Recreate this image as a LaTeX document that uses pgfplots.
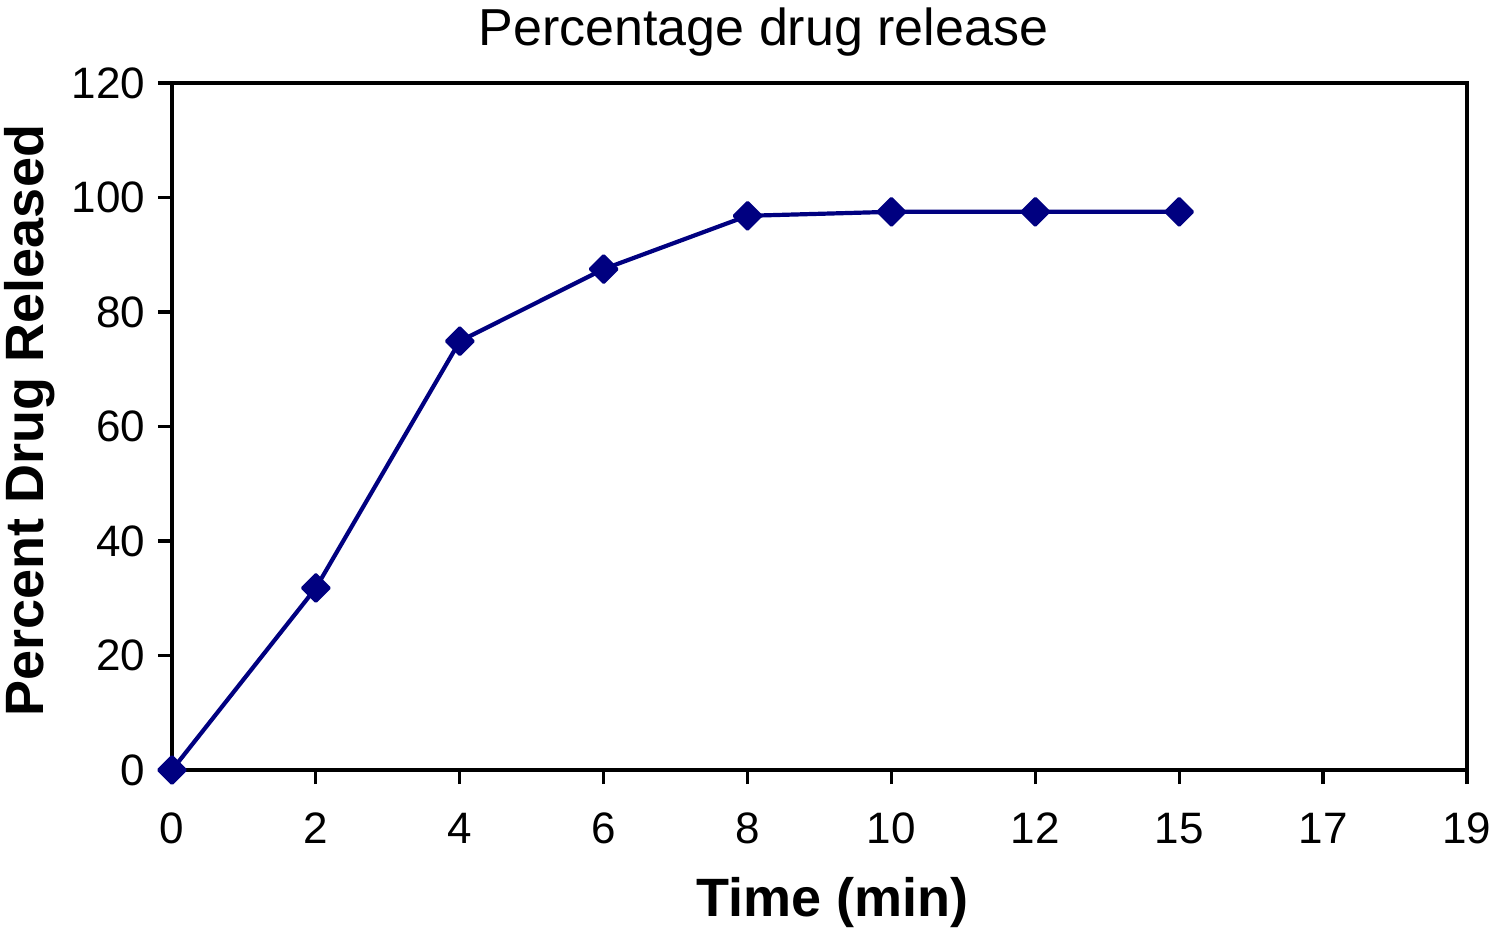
\documentclass[border=0pt]{standalone}
\usepackage{fontspec}
\setmainfont{Liberation Sans}
\usepackage{pgfplots}
\pgfplotsset{compat=1.18}
\definecolor{navy}{HTML}{000080}
\begin{document}
\begin{tikzpicture}
\useasboundingbox (-172bp,-167bp) rectangle (1319bp,770bp);
\begin{axis}[
  at={(0,0)}, anchor=south west,
  scale only axis,
  width=1295bp, height=687bp,
  xmin=0, xmax=9, ymin=0, ymax=120,
  xtick={0,1,2,3,4,5,6,7,8,9},
  xticklabels={0,2,4,6,8,10,12,15,17,19},
  ytick={0,20,40,60,80,100,120},
  xtick pos=bottom, ytick pos=left,
  tick align=outside,
  major tick length=14bp,
  line width=3.2bp,
  axis line style={line width=3.2bp},
  every tick/.style={black, line width=3.2bp},
  /pgf/number format/assume math mode=true,
  ticklabel style={font=\fontsize{44bp}{50bp}\selectfont},
  xticklabel style={yshift=-24bp},
  yticklabel style={xshift=-8bp},
  title={Percentage drug release},
  title style={font=\fontsize{52bp}{58bp}\selectfont, at={(axis description cs:0.5,1)}, anchor=center, yshift=45bp, xshift=-56bp},
  xlabel={\textbf{Time (min)}},
  ylabel={\textbf{Percent Drug Released}},
  xlabel style={font=\fontsize{54bp}{60bp}\selectfont, at={(axis description cs:0.5,0)}, anchor=center, yshift=-133bp, xshift=13bp},
  ylabel style={font=\fontsize{54bp}{60bp}\selectfont, at={(axis description cs:0,0.5)}, anchor=center, yshift=142bp, xshift=6bp},
  clip=false,
]
\addplot[color=navy, line width=4.2bp, line join=round, mark=square*, mark size=9.5bp, mark options={rotate=45, fill=navy, line width=3bp, line join=round}]
  coordinates {(0,0) (1,31.8) (2,74.9) (3,87.5) (4,96.8) (5,97.5) (6,97.5) (7,97.5)};
\end{axis}
\end{tikzpicture}
\end{document}
